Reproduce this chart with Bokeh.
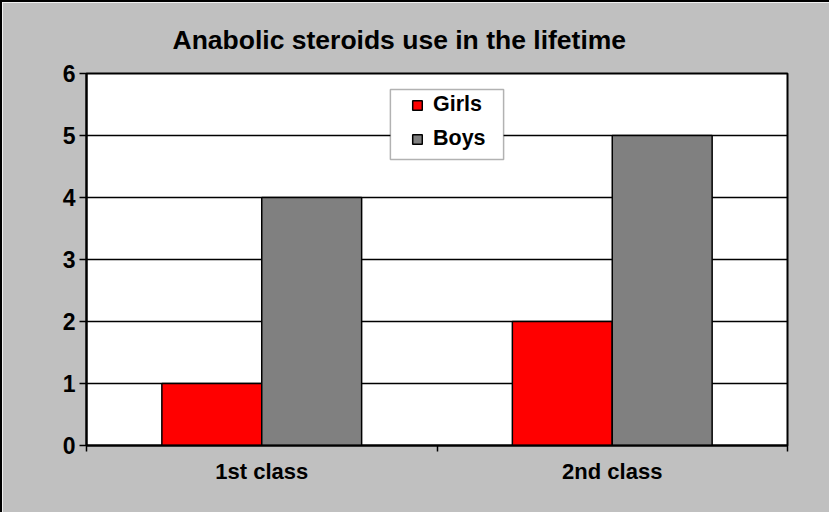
from bokeh.plotting import figure
from bokeh.models import (ColumnDataSource, FactorRange, BoxAnnotation, Title,
                          FixedTicker, Legend, LinearAxis, CategoricalAxis)
from bokeh.transform import dodge
from bokeh.embed import file_html
from bokeh.resources import INLINE

# ---- data ----
classes = ["1st class", "2nd class"]
girls = [1, 2]
boys = [4, 5]
series_names = ["Girls", "Boys"]
y_ticks = [0, 1, 2, 3, 4, 5, 6]
title_text = "Anabolic steroids use in the lifetime"

FONT = "Liberation Sans"

source = ColumnDataSource(dict(cls=classes, girls=girls, boys=boys))

title = Title(text=title_text, align="left", offset=86, standoff=38,
              text_font=FONT, text_font_style="bold", text_font_size="26.5px",
              text_color="black")

p = figure(width=829, height=512, x_range=FactorRange(*classes, range_padding=0),
           y_range=(0, 6), output_backend="svg", toolbar_location=None, title=title,
           x_axis_location=None,
           min_border_left=84, min_border_right=44, min_border_top=71, min_border_bottom=69,
           border_fill_color="#c0c0c0", background_fill_color="white",
           outline_line_color="black", outline_line_width=2,
           styles={"border-left": "2px solid black", "border-top": "2px solid black"})

bw = 0.285
r_g = p.vbar(x=dodge("cls", -bw / 2, range=p.x_range), top="girls", width=bw, source=source,
             fill_color="#ff0000", line_color="black", line_width=1.5)
r_b = p.vbar(x=dodge("cls", bw / 2, range=p.x_range), top="boys", width=bw, source=source,
             fill_color="#808080", line_color="black", line_width=1.5)

# y axis
p.yaxis.ticker = FixedTicker(ticks=y_ticks, minor_ticks=[])
p.yaxis.major_tick_out = 7
p.yaxis.major_tick_in = 0
p.yaxis.major_tick_line_width = 1.5
p.yaxis.axis_line_width = 2
p.yaxis.major_label_standoff = 4
p.yaxis.major_label_text_font = FONT
p.yaxis.major_label_text_font_style = "bold"
p.yaxis.major_label_text_font_size = "23px"
p.yaxis.major_label_text_color = "black"

p.xgrid.grid_line_color = None
p.ygrid.grid_line_color = "black"
p.ygrid.grid_line_width = 1.5
p.ygrid.ticker = FixedTicker(ticks=y_ticks)

# x axis: boundary ticks between categories (synthetic coordinates), then labels
boundaries = list(range(len(classes) + 1))
tick_axis = LinearAxis(ticker=FixedTicker(ticks=boundaries, minor_ticks=[]),
                       major_label_overrides={b: "" for b in boundaries},
                       major_label_text_font_size="0px", major_label_standoff=0,
                       major_tick_out=6, major_tick_in=0, major_tick_line_width=1.5,
                       axis_line_width=2, axis_line_color="black")
p.add_layout(tick_axis, "below")

cat_axis = CategoricalAxis(axis_line_color=None, major_tick_line_color=None,
                           major_tick_out=0, major_tick_in=0, major_label_standoff=7,
                           major_label_text_font=FONT, major_label_text_font_style="bold",
                           major_label_text_font_size="22px", major_label_text_color="black")
p.add_layout(cat_axis, "below")

# legend box
p.add_layout(BoxAnnotation(left=0.867, right=1.19, top=5.742, bottom=4.613,
                           fill_color="white", fill_alpha=1, line_color="black",
                           line_width=1.5, level="annotation"))

legend = Legend(items=[(series_names[0], [r_g]), (series_names[1], [r_b])],
                location=(325, 294), padding=0, margin=0, spacing=9,
                border_line_color=None, background_fill_alpha=0,
                glyph_width=12, glyph_height=12, label_height=25, label_standoff=10,
                label_text_font=FONT, label_text_font_style="bold",
                label_text_font_size="21.5px", label_text_color="black")
p.add_layout(legend)

open("out.html", "w").write(file_html(p, INLINE))
